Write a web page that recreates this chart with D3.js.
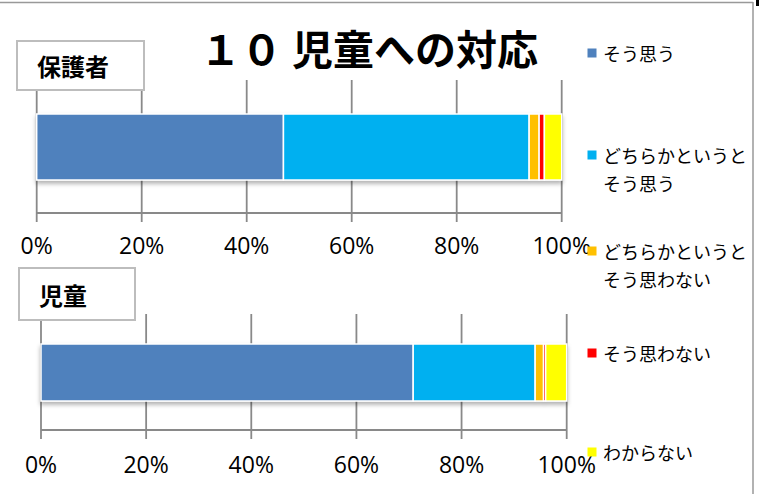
<!DOCTYPE html>
<html>
<head>
<meta charset="utf-8">
<script src="https://cdn.jsdelivr.net/npm/d3@7"></script>
<style>
  body { margin: 0; background: #fff; }
  svg { display: block; }
</style>
</head>
<body>
<script>
// data (percent)
var categories = ["保護者", "児童"];
var seriesNames = ["そう思う", "どちらかというと\nそう思う", "どちらかというと\nそう思わない", "そう思わない", "わからない"];
var seriesColors = ["#4f81bd", "#00b0f0", "#ffc000", "#ff0000", "#ffff00"];
var hogoshaValues = [47.0, 46.8, 1.9, 1.0, 3.3];
var jidouValues = [70.8, 23.2, 1.6, 0.4, 4.0];
var tickValues = [0, 20, 40, 60, 80, 100];

var width = 761, height = 494;
var svg = d3.select("body").append("svg")
    .attr("width", width)
    .attr("height", height);

var defs = svg.append("defs");
var f = defs.append("filter").attr("id", "shadow")
    .attr("x", "-5%").attr("y", "-20%").attr("width", "110%").attr("height", "150%");
f.append("feDropShadow")
    .attr("dx", 0).attr("dy", 3)
    .attr("stdDeviation", 2)
    .attr("flood-color", "#000")
    .attr("flood-opacity", 0.3);

// outer frame (top and right edges visible)
svg.append("line").attr("x1", 0).attr("x2", 753).attr("y1", 2.5).attr("y2", 2.5)
    .attr("stroke", "#999").attr("stroke-width", 1.5);
svg.append("line").attr("x1", 753).attr("x2", 753).attr("y1", 2).attr("y2", height)
    .attr("stroke", "#999").attr("stroke-width", 1.5);
svg.append("rect").attr("x", 756).attr("y", 0).attr("width", 3).attr("height", 6).attr("fill", "#000");

// title
var title = svg.append("text")
    .attr("y", 65)
    .attr("font-family", "Noto Sans CJK JP")
    .attr("font-weight", "bold")
    .attr("font-size", "41px")
    .attr("fill", "#000");
title.append("tspan").attr("x", 200).text("１０");
title.append("tspan").attr("x", 292).text("児童への対応");

var panels = [
    { name: categories[0], values: hogoshaValues, x0: 36.7, x1: 561.7, gridTop: 80, axisY: 213, barY: 114, barH: 66,
      box: [17, 41, 127, 49], labelY: 254 },
    { name: categories[1], values: jidouValues, x0: 41, x1: 566.7, gridTop: 314, axisY: 430, barY: 344, barH: 57,
      box: [19, 268, 116, 52], labelY: 473 }
];

panels.forEach(function(p) {
    var x = d3.scaleLinear().domain([0, 100]).range([p.x0, p.x1]);
    var g = svg.append("g");

    // grid lines
    g.selectAll("line.grid").data(tickValues).enter().append("line")
        .attr("class", "grid")
        .attr("x1", function(d) { return x(d); })
        .attr("x2", function(d) { return x(d); })
        .attr("y1", p.gridTop)
        .attr("y2", p.axisY + 9)
        .attr("stroke", "#898989")
        .attr("stroke-width", 1.8);

    // axis line
    g.append("line")
        .attr("x1", x(0)).attr("x2", x(100))
        .attr("y1", p.axisY).attr("y2", p.axisY)
        .attr("stroke", "#898989")
        .attr("stroke-width", 1.8);

    // tick labels
    g.selectAll("text.tick").data(tickValues).enter().append("text")
        .attr("class", "tick")
        .attr("x", function(d) { return x(d); })
        .attr("y", p.labelY)
        .style("text-anchor", "middle")
        .attr("font-family", "Open Sans")
        .attr("font-size", "23px")
        .attr("fill", "#000")
        .text(function(d) { return d + "%"; });

    // stacked segments
    var cum = 0;
    var segs = p.values.map(function(v, i) {
        var s = { start: cum, end: cum + v, color: seriesColors[i] };
        cum += v;
        return s;
    });
    var bars = g.append("g").attr("filter", "url(#shadow)");
    bars.selectAll("rect").data(segs).enter().append("rect")
        .attr("x", function(d) { return x(d.start); })
        .attr("y", p.barY)
        .attr("width", function(d) { return Math.max(0, x(d.end) - x(d.start)); })
        .attr("height", p.barH)
        .attr("fill", function(d) { return d.color; })
        .attr("stroke", "#fff")
        .attr("stroke-width", 1.5);

    // category label box
    g.append("rect")
        .attr("x", p.box[0]).attr("y", p.box[1])
        .attr("width", p.box[2]).attr("height", p.box[3])
        .attr("fill", "#fff")
        .attr("stroke", "#bdbdbd")
        .attr("stroke-width", 2);
    g.append("text")
        .attr("x", p.box[0] + 20)
        .attr("y", p.box[1] + p.box[3] / 2)
        .attr("dominant-baseline", "central")
        .attr("font-family", "Noto Sans CJK JP")
        .attr("font-weight", "bold")
        .attr("font-size", "24px")
        .attr("fill", "#000")
        .text(p.name);
});

// legend
var legendY = [53, 155, 251, 353, 452];
var legend = svg.append("g");
seriesNames.forEach(function(name, i) {
    legend.append("rect")
        .attr("x", 587.5)
        .attr("y", legendY[i] - 4.5)
        .attr("width", 9)
        .attr("height", 9)
        .attr("fill", seriesColors[i]);
    var t = legend.append("text")
        .attr("x", 603)
        .attr("y", legendY[i])
        .attr("dominant-baseline", "central")
        .attr("font-family", "Noto Sans CJK JP")
        .attr("font-size", "18px")
        .attr("fill", "#000");
    name.split("\n").forEach(function(line, j) {
        t.append("tspan")
            .attr("x", 603)
            .attr("dy", j === 0 ? 0 : 28)
            .text(line);
    });
});
</script>
</body>
</html>
